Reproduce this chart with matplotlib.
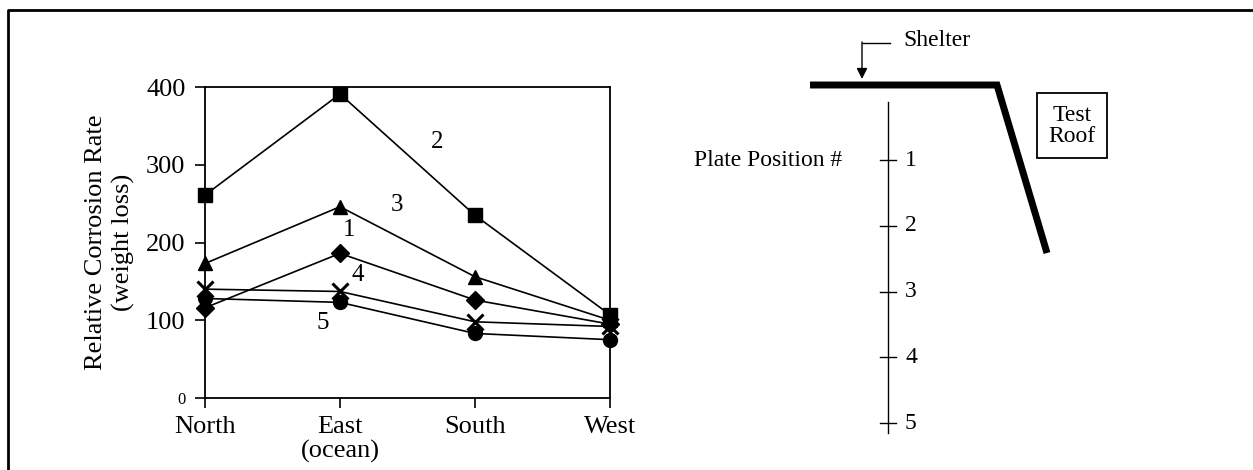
import numpy as np
import matplotlib.pyplot as plt
from matplotlib.patches import Rectangle

# ----------------------------------------------------------
# DATA
# ----------------------------------------------------------
sides = ["North", "East\n(ocean)", "South", "West"]
pos_1 = [116, 186, 126, 95]
pos_2 = [261, 391, 235, 107]
pos_3 = [173, 246, 156, 100]
pos_4 = [140, 137, 98, 92]
pos_5 = [128, 123, 83, 75]
y_ticks = [0, 100, 200, 300, 400]
plates = [1, 2, 3, 4, 5]

series = [
    (pos_1, "D", 9),
    (pos_2, "s", 10),
    (pos_3, "^", 10),
    (pos_4, "x", 11),
    (pos_5, "o", 10),
]
# where the position numbers sit next to the lines (data coords)
line_labels = [("1", 1.07, 216), ("2", 1.72, 329), ("3", 1.42, 248),
               ("4", 1.13, 158), ("5", 0.87, 96)]

plt.rcParams["font.family"] = ["Liberation Serif", "DejaVu Serif"]

W, H = 1253, 470
fig = plt.figure(figsize=(W / 100, H / 100), dpi=100)

# ----------------------------------------------------------
# LEFT: corrosion chart
# ----------------------------------------------------------
ax = fig.add_axes([205 / W, 1 - 398 / H, 405 / W, 311 / H])
x = np.arange(len(sides))
for vals, mk, ms in series:
    ax.plot(x, vals, color="black", lw=1.2, marker=mk, ms=ms,
            mew=2.2 if mk == "x" else 1, clip_on=False, zorder=3)
for txt, lx, ly in line_labels:
    ax.text(lx, ly, txt, fontsize=18, ha="center", va="center")

ax.set_xlim(0, 3)
ax.set_ylim(0, 400)
ax.set_xticks(x)
ax.set_xticklabels(sides, fontsize=19, linespacing=1.12)
ax.set_yticks(y_ticks)
ax.set_yticklabels([str(v) for v in y_ticks], fontsize=19)
ax.get_yticklabels()[0].set_fontsize(12)
ax.tick_params(axis="both", direction="out", length=7, width=1.2, colors="black")
ax.tick_params(axis="x", pad=6)
ax.tick_params(axis="y", pad=7)
for sp in ax.spines.values():
    sp.set_linewidth(1.3)
ax.set_ylabel("Relative Corrosion Rate\n(weight loss)", fontsize=19,
              linespacing=1.3, labelpad=8)

# ----------------------------------------------------------
# RIGHT: shelter sketch (pixel coordinates)
# ----------------------------------------------------------
d = fig.add_axes([0, 0, 1, 1])
d.set_xlim(0, W)
d.set_ylim(H, 0)
d.axis("off")

# page frame (top and left only)
d.plot([8, 8, W], [H, 10, 10], color="black", lw=2)

# roof
d.plot([810, 997, 1047], [85, 85, 253], color="black", lw=5,
       solid_joinstyle="miter", solid_capstyle="butt")

# plate ruler
ruler_x, first_y, step = 888, 160, 65.8
d.plot([ruler_x, ruler_x], [102, 433], color="black", lw=1)
for p in plates:
    py = first_y + (p - 1) * step
    d.plot([ruler_x - 8, ruler_x + 8], [py, py], color="black", lw=1)
    d.text(ruler_x + 17, py, str(p), fontsize=17, ha="left", va="center")
d.text(842, first_y, "Plate Position #", fontsize=17, ha="right", va="center")

# shelter call-out
d.plot([890, 862], [43, 43], color="black", lw=1)
d.annotate("", xy=(862, 79), xytext=(862, 42),
           arrowprops=dict(arrowstyle="-|>", color="black", lw=1,
                           mutation_scale=16, shrinkA=0, shrinkB=0))
d.text(903, 40, "Shelter", fontsize=17, ha="left", va="center")

# test roof box
d.add_patch(Rectangle((1037, 93), 70, 65, fill=False, ec="black", lw=1.3))
d.text(1072, 126, "Test\nRoof", fontsize=17, ha="center", va="center",
       linespacing=0.95)

fig.savefig("out.png", dpi=100)
